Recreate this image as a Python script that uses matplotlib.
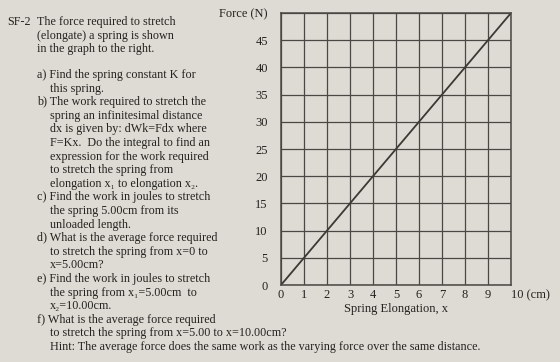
"""
Spring force vs elongation worksheet (SF-2)
"""

import matplotlib
matplotlib.use('Agg')
import matplotlib.pyplot as plt

# graph data: straight line F = Kx
elongation = [0, 10]      # cm
force = [0, 50]           # N

x_ticks = [0, 1, 2, 3, 4, 5, 6, 7, 8, 9, 10]
x_labels = ['0', '1', '2', '3', '4', '5', '6', '7', '8', '9', '10 (cm)']
y_ticks = [0, 5, 10, 15, 20, 25, 30, 35, 40, 45, 50]
y_labels = ['0', '5', '10', '15', '20', '25', '30', '35', '40', '45', 'Force (N)']
x_title = 'Spring Elongation, x'

# question text, (indent level, text)
lines = [
    (1, 'The force required to stretch'),
    (1, '(elongate) a spring is shown'),
    (1, 'in the graph to the right.'),
    (1, 'a) Find the spring constant K for'),
    (2, 'this spring.'),
    (1, 'b) The work required to stretch the'),
    (2, 'spring an infinitesimal distance'),
    (2, 'dx is given by: dWk=Fdx where'),
    (2, 'F=Kx.  Do the integral to find an'),
    (2, 'expression for the work required'),
    (2, 'to stretch the spring from'),
    (2, 'elongation x\u2081 to elongation x\u2082.'),
    (1, 'c) Find the work in joules to stretch'),
    (2, 'the spring 5.00cm from its'),
    (2, 'unloaded length.'),
    (1, 'd) What is the average force required'),
    (2, 'to stretch the spring from x=0 to'),
    (2, 'x=5.00cm?'),
    (1, 'e) Find the work in joules to stretch'),
    (2, 'the spring from x\u2081=5.00cm  to'),
    (2, 'x\u2082=10.00cm.'),
    (1, 'f) What is the average force required'),
    (2, 'to stretch the spring from x=5.00 to x=10.00cm?'),
    (2, 'Hint: The average force does the same work as the varying force over the same distance.'),
]

##### layout #####
W, H = 560, 362
paper = '#dedbd4'
ink = '#24221f'
serif = ['Liberation Serif', 'DejaVu Serif']
fs = 8.7

fig = plt.figure(figsize=(W/100, H/100), dpi=100, facecolor=paper)
ax = fig.add_axes([281/W, 1 - 285/H, 230/W, 272/H])
ax.set_facecolor(paper)

ax.plot(elongation, force, color='#3b3935', lw=1.3)
ax.set_xlim(0, 10)
ax.set_ylim(0, 50)
ax.set_xticks(x_ticks)
ax.set_xticklabels(x_labels, family=serif, fontsize=9, color=ink)
ax.set_yticks(y_ticks)
ax.set_yticklabels(y_labels, family=serif, fontsize=9, color=ink)
ax.get_xticklabels()[-1].set_horizontalalignment('left')
ax.tick_params(length=0)
ax.tick_params(axis='y', pad=9.5)
ax.tick_params(axis='x', pad=3)
ax.grid(True, color='#4a4744', lw=0.9)
for s in ax.spines.values():
    s.set_color('#4a4744')
    s.set_linewidth(1.1)
ax.set_xlabel(x_title, family=serif, fontsize=9, color=ink, labelpad=1)

# question text
indent = {1: 37, 2: 50}
ys = [22, 35.5, 49] + [75 + 13.6*i for i in range(len(lines) - 3)]
fig.text(7/W, 1 - 22/H, 'SF-2', family=serif, fontsize=fs, color=ink, va='center')
for (lvl, txt), y in zip(lines, ys):
    fig.text(indent[lvl]/W, 1 - y/H, txt, family=serif, fontsize=fs,
             color=ink, va='center')

fig.savefig('out.png', dpi=100, facecolor=paper)
